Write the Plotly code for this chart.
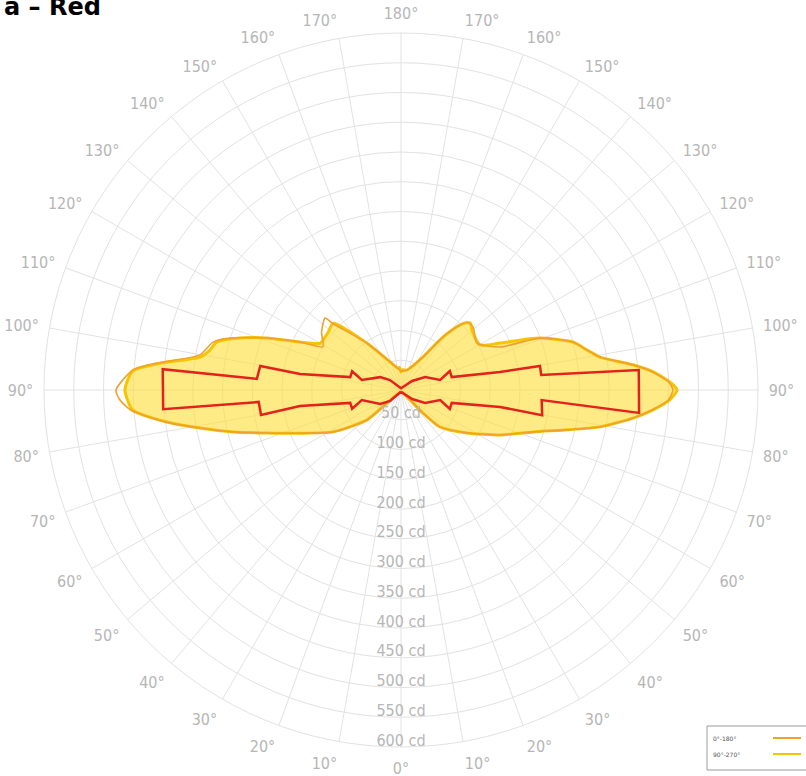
import plotly.graph_objects as go

# ---------------- data ----------------
# C0-C180 plane (orange)
orange_theta = [0, 30, 47, 48.6, 58.3, 66.9, 72.2, 76, 79.3, 82.2, 85.7, 88, 90, 94.3, 96.3, 99.9,
                104.3, 107.2, 111.2, 115.4, 118.9, 126, 133.5, 134.2, 144.1, 158.6, 172, 180,
                196.7, 213.7, 218.4, 222.2, 224.1, 228.8, 238.3, 246.5, 249.5, 254.4, 257.9,
                260.6, 263.8, 265.9, 268.3, 270, 272.1, 274.5, 276.9, 280.5, 283.5, 287.6,
                294.4, 303.1, 313.5, 316.3, 318, 330, 360]
orange_cd = [4, 5, 32, 76, 134, 185, 236, 291, 344, 398, 455, 473, 479, 452, 413, 343,
             326, 296, 242, 188, 150, 165, 176, 161, 97, 51, 37, 32,
             35, 67, 114, 148, 159, 161, 150, 181, 249, 300, 320,
             339, 392, 424, 450, 457, 450, 424, 393, 340, 287, 233,
             183, 132, 90, 53, 23, 6, 4]

# C90-C270 plane (yellow)
yellow_theta = [0, 30, 47, 48.6, 58.3, 66.9, 72.2, 76, 79.3, 82.2, 85.7, 90, 94.1, 96.5, 99.3,
                101.8, 104.6, 107.9, 111.2, 115.4, 120.1, 128, 134.6, 144.1, 158.6, 172, 176,
                180, 184, 196.7, 213.7, 218.4, 222.2, 225.8, 229.8, 240.3, 244.6, 249.5, 254.4,
                257.9, 260.6, 263.8, 265.9, 268.3, 270, 272.1, 274.5, 276.9, 280.5, 283.5,
                287.6, 294.4, 303.1, 313.5, 316.3, 318, 330, 360]
yellow_cd = [4, 5, 32, 76, 134, 185, 236, 291, 344, 397, 452, 464, 452, 403, 342,
             328, 320, 284, 242, 188, 157, 156, 160, 97, 51, 37, 38,
             30, 34, 35, 67, 114, 148, 162, 156, 153, 184, 249, 300,
             320, 339, 392, 425, 452, 464, 452, 425, 393, 340, 287,
             233, 183, 132, 90, 53, 23, 6, 4]

# red curve
red_theta = [0, 45, 56, 75.6, 69, 75.7, 81, 79.9, 85.2, 85.4, 95, 94.4, 99.7, 99, 104.3, 111,
             104.4, 121.8, 132, 180, 231, 241.6, 255.6, 248.8, 255.7, 259.7, 260.2, 263.9,
             265.2, 275.5, 274.1, 280.1, 279.7, 284.3, 291.2, 284.4, 298.4, 309, 360]
red_cd = [3, 26, 42, 68, 88, 88, 172, 239, 240, 401, 402, 243, 240, 172, 88, 88,
          68, 41, 25, 3, 24, 46, 68, 88, 88, 169, 237, 237,
          401, 402, 237, 241, 169, 88, 88, 68, 46, 24, 3]

angle_ticks = list(range(0, 360, 10))
angle_labels = [f"{t}°" if t <= 180 else f"{360 - t}°" for t in angle_ticks]
radial_ticks = list(range(50, 650, 50))
radial_labels = [f"{v} cd" for v in radial_ticks]

legend_names = ["0°-180°", "90°-270°"]

ORANGE = "#f0a030"
YELLOW = "#f6c400"
RED = "#e3221c"
GRID = "#e2e2e2"
LABEL = "#b6b6b6"
LABEL_FONT = "DejaVu Sans Condensed, DejaVu Sans, sans-serif"

W, H = 806, 776


def px(x):
    return x / W


def py(y):
    return 1 - y / H


fig = go.Figure()

fig.add_trace(go.Scatterpolar(
    theta=yellow_theta, r=yellow_cd, mode="lines", fill="toself",
    fillcolor="rgba(255,222,60,0.62)", line=dict(color=YELLOW, width=3,
                                                 shape="spline", smoothing=0.6),
    showlegend=False, hoverinfo="skip"))
fig.add_trace(go.Scatterpolar(
    theta=orange_theta, r=orange_cd, mode="lines",
    line=dict(color=ORANGE, width=1.6, shape="spline", smoothing=0.6),
    showlegend=False, hoverinfo="skip"))
fig.add_trace(go.Scatterpolar(
    theta=red_theta, r=red_cd, mode="lines",
    line=dict(color=RED, width=2.5), showlegend=False, hoverinfo="skip"))

# radial labels along the downward spoke, sitting just above each ring
label_r = [v - 9 for v in radial_ticks]
fig.add_trace(go.Scatterpolar(
    theta=[0] * len(radial_ticks), r=label_r, mode="text",
    text=radial_labels, textposition="middle center",
    textfont=dict(family=LABEL_FONT, size=16, color=LABEL),
    showlegend=False, hoverinfo="skip"))

fig.update_layout(
    width=W, height=H,
    margin=dict(l=0, r=0, t=0, b=0),
    paper_bgcolor="white",
    font=dict(family=LABEL_FONT),
    polar=dict(
        domain=dict(x=[px(44), px(758)], y=[py(747), py(33)]),
        bgcolor="white",
        angularaxis=dict(
            rotation=270, direction="clockwise",
            tickmode="array", tickvals=angle_ticks, ticktext=angle_labels,
            tickfont=dict(family=LABEL_FONT, size=16, color=LABEL),
            ticks="outside", ticklen=7, tickcolor="rgba(0,0,0,0)",
            showline=True, linecolor=GRID, linewidth=1,
            gridcolor=GRID, gridwidth=1),
        radialaxis=dict(
            range=[0, 600], tickmode="array", tickvals=radial_ticks,
            showticklabels=False, ticks="", showline=False,
            gridcolor=GRID, gridwidth=1),
    ),
)

# title (cut at left like the source)
fig.add_annotation(
    xref="paper", yref="paper", x=px(103), y=py(7), xanchor="right", yanchor="middle",
    text="<b>a – Red</b>", showarrow=False,
    font=dict(family="DejaVu Sans", size=24, color="black"))

# legend box
fig.add_shape(type="rect", xref="paper", yref="paper",
              x0=px(707), x1=1.02, y0=py(770), y1=py(726),
              line=dict(color="#9a9a9a", width=1), fillcolor="white")
for i, (name, col) in enumerate(zip(legend_names, [ORANGE, YELLOW])):
    yy = py(738 + 16 * i)
    fig.add_annotation(xref="paper", yref="paper", x=px(711), y=yy,
                       xanchor="left", yanchor="middle", text=name, showarrow=False,
                       font=dict(family="DejaVu Sans", size=6, color="#555555"))
    fig.add_shape(type="line", xref="paper", yref="paper",
                  x0=px(773), x1=px(801), y0=yy, y1=yy,
                  line=dict(color=col, width=2))

fig.write_html("out.html",
               config={"displayModeBar": False},
               post_script="document.body.style.margin='0px';"
                           "document.body.style.overflow='hidden';")
